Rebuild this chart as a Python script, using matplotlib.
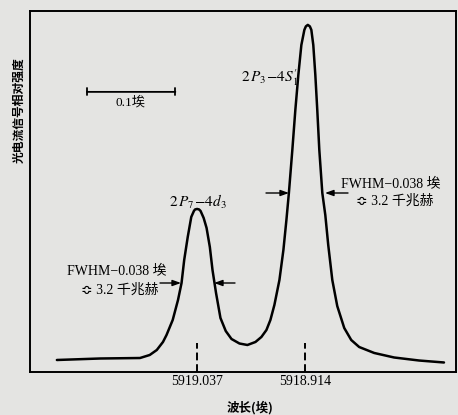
import numpy as np
import matplotlib
matplotlib.use("Agg")
import matplotlib.pyplot as plt

plt.rcParams['font.family'] = ['Liberation Serif', 'DejaVu Sans', 'Noto Sans CJK SC']
plt.rcParams['mathtext.fontset'] = 'stix'

# wavelength (Angstrom) and relative photocurrent signal
wavelength = [5919.195, 5919.146, 5919.101, 5919.090, 5919.082, 5919.075, 5919.071,
              5919.064, 5919.058, 5919.054, 5919.051, 5919.047, 5919.043, 5919.040,
              5919.0387, 5919.0364, 5919.0342, 5919.0325, 5919.029, 5919.0257, 5919.022,
              5919.019, 5919.015,
              5919.010, 5919.004, 5918.9975, 5918.9885, 5918.9795, 5918.9704, 5918.9637,
              5918.958, 5918.9535, 5918.949, 5918.9433, 5918.9388, 5918.9354, 5918.9326,
              5918.9287, 5918.9253, 5918.9219, 5918.9185, 5918.9151, 5918.9134, 5918.9112,
              5918.9089, 5918.9072,
              5918.905, 5918.9027, 5918.9005, 5918.8982, 5918.8948, 5918.8914, 5918.8881,
              5918.8835, 5918.8779, 5918.870, 5918.8621, 5918.8531, 5918.8361, 5918.8136,
              5918.7854, 5918.7572]
signal = [3.46, 3.89, 4.03, 4.90, 6.34, 8.65, 10.66,
          14.99, 20.75, 25.65, 32.28, 38.9, 44.67, 46.4,
          46.83, 46.97, 46.83, 46.4, 44.38, 41.5, 36.0,
          29.4, 22.77,
          15.56, 11.8, 9.51, 8.21, 7.78, 8.65, 10.09,
          12.1, 14.99, 19.31, 26.5, 35.16, 43.8, 51.58,
          63.98, 75.5, 85.6, 94.2, 98.56, 99.57, 100.0,
          99.57, 98.56,
          94.2, 85.6, 75.5, 64.0, 51.58, 45.2, 36.6,
          26.5, 19.0, 12.68, 9.22, 7.2, 5.48, 4.18,
          3.31, 2.74]

line_centers = [5919.037, 5918.914]
tick_labels = ["5919.037", "5918.914"]

bg = '#e4e4e2'
fig = plt.figure(figsize=(4.58, 4.15), dpi=100, facecolor=bg)
ax = fig.add_axes([30 / 458, 43 / 415, 426 / 458, 361 / 415])
ax.set_facecolor(bg)

ax.plot(wavelength, signal, color='black', lw=1.8, solid_capstyle='round', solid_joinstyle='round')

for c in line_centers:
    ax.plot([c, c], [0, 8.4], color='black', lw=1.4, ls=(0, (4, 2)))

ax.set_xlim(5919.2254, 5918.7436)
ax.set_ylim(0, 104.0)
ax.set_xticks(line_centers)
ax.set_xticklabels(tick_labels, fontsize=10)
ax.tick_params(axis='x', length=0, pad=2.5)
ax.set_yticks([])
for s in ax.spines.values():
    s.set_linewidth(1.4)
    s.set_color('black')


def px(x, y):
    # pixel position in the picture -> axes fraction
    return ((x - 30) / 426, (372 - y) / 361)


# scale bar 0.1 Angstrom
ax.annotate('', xy=(5919.161, 80.7), xytext=(5919.061, 80.7),
            arrowprops=dict(arrowstyle='|-|, widthA=0.25, widthB=0.25', lw=1.3, color='black',
                            shrinkA=0, shrinkB=0))
ax.text(*px(131, 102), '0.1埃', transform=ax.transAxes, ha='center', va='center', fontsize=9.5)

# line labels
ax.text(*px(198, 202), r'$2\,P_7\!-\!4d_3$', transform=ax.transAxes, ha='center', va='center', fontsize=11)
ax.text(*px(270, 78), r'$2\,P_3\!-\!4S^{\prime}_{1}$', transform=ax.transAxes, ha='center', va='center', fontsize=11)

arrow_kw = dict(arrowstyle='-|>, head_length=0.5, head_width=0.18', lw=1.0, color='black',
                shrinkA=0, shrinkB=0)

# FWHM of the small peak
ax.annotate('', xy=px(181, 283), xytext=px(160, 283), xycoords='axes fraction',
            textcoords='axes fraction', arrowprops=arrow_kw)
ax.annotate('', xy=px(214, 283), xytext=px(235, 283), xycoords='axes fraction',
            textcoords='axes fraction', arrowprops=arrow_kw)
ax.text(*px(117, 272), 'FWHM−0.038 埃', transform=ax.transAxes, ha='center', va='center', fontsize=10)
ax.text(*px(120, 290), '≎ 3.2 千兆赫', transform=ax.transAxes, ha='center', va='center', fontsize=10)

# FWHM of the large peak
ax.annotate('', xy=px(289, 193), xytext=px(266, 193), xycoords='axes fraction',
            textcoords='axes fraction', arrowprops=arrow_kw)
ax.annotate('', xy=px(325, 193), xytext=px(348, 193), xycoords='axes fraction',
            textcoords='axes fraction', arrowprops=arrow_kw)
ax.text(*px(391, 185), 'FWHM−0.038 埃', transform=ax.transAxes, ha='center', va='center', fontsize=10)
ax.text(*px(395, 201), '≎ 3.2 千兆赫', transform=ax.transAxes, ha='center', va='center', fontsize=10)

fig.text(19 / 458, 1 - 110 / 415, '光电流信号相对强度', rotation=90, ha='center', va='center',
         fontsize=8.5, fontweight='bold', family=['Noto Sans CJK SC'])
fig.text(250 / 458, 1 - 408 / 415, '波长(埃)', ha='center', va='center',
         fontsize=9, fontweight='bold', family=['Noto Sans CJK SC'])

fig.savefig('out.png', dpi=100, facecolor=bg)
